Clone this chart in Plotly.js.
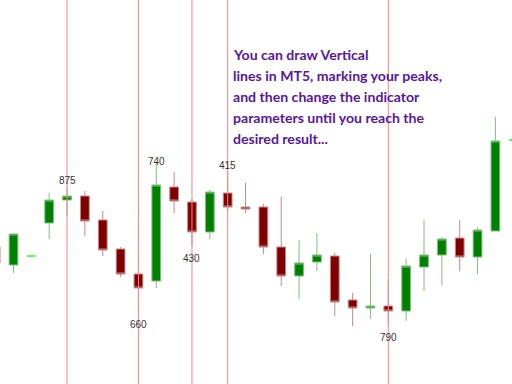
<!DOCTYPE html>
<html>
<head>
<meta charset="utf-8">
<script src="https://cdn.plot.ly/plotly-3.0.1.min.js"></script>
<style>
  html, body { margin: 0; padding: 0; background: #ffffff; }
  #chart { width: 512px; height: 384px; }
</style>
</head>
<body>
<div id="chart"></div>
<script>
// Bar numbers along the x axis
const bars = [0, 1, 3, 4, 5, 6, 7, 8, 9, 10, 11, 12, 13, 14, 15, 16, 17, 18,
              19, 20, 21, 22, 23, 24, 25, 26, 27, 28];
const opens  = [1.1137, 1.1119, 1.1161, 1.1184, 1.1188, 1.1164, 1.1135, 1.1110, 1.1103, 1.1197,
                1.1182, 1.1152, 1.1191, 1.1177, 1.1177, 1.1137, 1.1108, 1.1122, 1.1128, 1.1084,
                1.1076, 1.1078, 1.1073, 1.1117, 1.1129, 1.1146, 1.1127, 1.1153];
const highs  = [1.1141, 1.1150, 1.1191, 1.1197, 1.1193, 1.1173, 1.1137, 1.1166, 1.1221, 1.1212,
                1.1185, 1.1194, 1.1212, 1.1201, 1.1180, 1.1187, 1.1144, 1.1151, 1.1131, 1.1091,
                1.1130, 1.1105, 1.1125, 1.1164, 1.1147, 1.1164, 1.1157, 1.1267];
const lows   = [1.1116, 1.1111, 1.1145, 1.1168, 1.1148, 1.1128, 1.1107, 1.1073, 1.1096, 1.1171,
                1.1138, 1.1145, 1.1173, 1.1171, 1.1130, 1.1098, 1.1085, 1.1113, 1.1068, 1.1058,
                1.1065, 1.1059, 1.1063, 1.1093, 1.1099, 1.1113, 1.1110, 1.1153];
const closes = [1.1121, 1.1150, 1.1184, 1.1188, 1.1163, 1.1134, 1.1110, 1.1096, 1.1199, 1.1183,
                1.1152, 1.1192, 1.1177, 1.1175, 1.1137, 1.1108, 1.1121, 1.1129, 1.1082, 1.1076,
                1.1078, 1.1073, 1.1118, 1.1129, 1.1145, 1.1127, 1.1154, 1.1243];

// Doji bars (open == close), drawn in the line-chart colour
const dojiBars   = [2, 29];
const dojiPrices = [1.1128, 1.1244];

// Vertical lines placed on the chosen peaks / troughs
const vlineBars = [4, 8, 11, 13, 22];

// Number tags next to selected bars
const tagBars   = [4, 9, 8, 11, 13, 22];
const tagTexts  = ['875', '740', '660', '430', '415', '790'];
const tagPrices = [1.1204, 1.12225, 1.1060, 1.11255, 1.1219, 1.10465];

// Note text, one entry per line
const noteLines = [
  'You can draw Vertical',
  'lines in MT5, marking your peaks,',
  'and then change the indicator',
  'parameters until you reach the',
  'desired result...'
];

const UP_FILL = '#008000', UP_LINE = '#7fbf7f';
const DN_FILL = '#800000', DN_LINE = '#c48a8a';
const DOJI = '#33ee33';

const candles = {
  type: 'candlestick',
  x: bars, open: opens, high: highs, low: lows, close: closes,
  increasing: { fillcolor: UP_FILL, line: { color: UP_LINE, width: 1 } },
  decreasing: { fillcolor: DN_FILL, line: { color: DN_LINE, width: 1 } },
  whiskerwidth: 0,
  hoverinfo: 'skip',
  showlegend: false
};

const dojis = {
  type: 'candlestick',
  x: dojiBars, open: dojiPrices, high: dojiPrices, low: dojiPrices, close: dojiPrices,
  increasing: { fillcolor: DOJI, line: { color: DOJI, width: 1.5 } },
  decreasing: { fillcolor: DOJI, line: { color: DOJI, width: 1.5 } },
  whiskerwidth: 0,
  hoverinfo: 'skip',
  showlegend: false
};

const shapes = vlineBars.map(b => ({
  type: 'line', xref: 'x', yref: 'paper',
  x0: b, x1: b, y0: 0, y1: 1,
  line: { color: '#ff8282', width: 1 },
  layer: 'above'
}));

const annotations = tagBars.map((b, i) => ({
  x: b, y: tagPrices[i], xref: 'x', yref: 'y',
  text: tagTexts[i], showarrow: false,
  xanchor: 'center', yanchor: 'middle',
  font: { family: 'Liberation Sans, Arial, sans-serif', size: 10, color: '#333333' }
}));

// Note block: each line placed on a 21px pitch
const NOTE_LEFT = 231, NOTE_TOP = 54, NOTE_PITCH = 21;
noteLines.forEach((line, i) => {
  annotations.push({
    x: NOTE_LEFT / 512, y: 1 - (NOTE_TOP + i * NOTE_PITCH) / 384,
    xref: 'paper', yref: 'paper',
    xanchor: 'left', yanchor: 'middle', align: 'left',
    showarrow: false,
    text: '<b>' + line + '</b>',
    font: { family: 'Lato, sans-serif', size: 14.1, color: '#58169e' }
  });
});

const layout = {
  width: 512, height: 384,
  margin: { l: 0, r: 0, t: 0, b: 0, pad: 0 },
  paper_bgcolor: '#ffffff', plot_bgcolor: '#ffffff',
  showlegend: false,
  xaxis: { range: [0.2437, 28.93], visible: false, showgrid: false, zeroline: false,
           rangeslider: { visible: false }, fixedrange: true },
  yaxis: { range: [1.1000, 1.1384], visible: false, showgrid: false, zeroline: false, fixedrange: true },
  shapes: shapes,
  annotations: annotations
};

Plotly.newPlot('chart', [candles, dojis], layout, { staticPlot: true, displayModeBar: false });
</script>
</body>
</html>
